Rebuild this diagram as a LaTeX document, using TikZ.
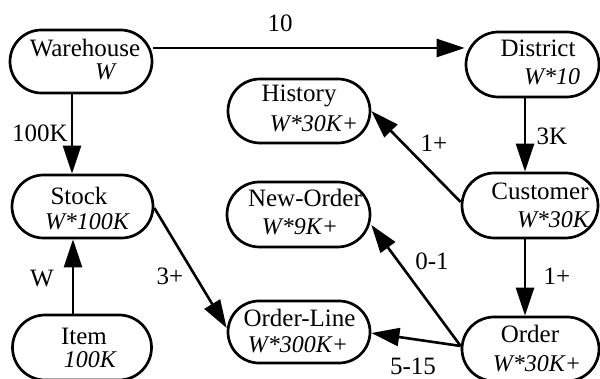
\documentclass[tikz,border=0pt]{standalone}
\usepackage{fontspec}
\setmainfont{Liberation Serif}
\usetikzlibrary{arrows.meta,shapes.misc}
\begin{document}
\begin{tikzpicture}[x=1pt,y=-1pt,
  box/.style={draw,rounded rectangle,line width=2.7pt,inner sep=0pt},
  txt/.style={anchor=base,inner sep=0pt,font=\fontsize{25}{28}\selectfont},
  itx/.style={anchor=base,inner sep=0pt,font=\fontsize{24}{28}\selectfont\itshape},
  lab/.style={anchor=base,inner sep=0pt,font=\fontsize{25}{28}\selectfont},
  conn/.style={line width=2.6pt,-{Triangle[length=28pt,width=18pt]}}]
\path[use as bounding box] (0,0) rectangle (600,379);

% boxes
\node[box,minimum width=142pt,minimum height=63pt] (wh) at (81,61.5) {};
\node[box,minimum width=133pt,minimum height=65pt] (di) at (532.5,64.5) {};
\node[box,minimum width=142pt,minimum height=64pt] (hi) at (299,111) {};
\node[box,minimum width=141pt,minimum height=63pt] (st) at (82.5,206.5) {};
\node[box,minimum width=143pt,minimum height=65pt] (no) at (298.5,214.5) {};
\node[box,minimum width=136pt,minimum height=65pt] (cu) at (530,205.5) {};
\node[box,minimum width=139pt,minimum height=65pt] (it) at (82,347.5) {};
\node[box,minimum width=142pt,minimum height=62pt] (ol) at (299,332) {};
\node[box,minimum width=137pt,minimum height=64pt] (or) at (530.5,349) {};

% box texts
\node[txt] (wh1) at (85,57) {Warehouse};
\node[itx] (wh2) at (105,80) {W};
\node[txt] (di1) at (538,57) {District};
\node[itx] (di2) at (552,85) {W*10};
\node[txt] (hi1) at (299,102) {History};
\node[itx] (hi2) at (314,132) {W*30K+};
\node[txt] (st1) at (79,205) {Stock};
\node[itx] (st2) at (87,230) {W*100K};
\node[txt] (no1) at (305,207) {New-Order};
\node[itx] (no2) at (300,235) {W*9K+};
\node[txt] (cu1) at (540,200) {Customer};
\node[itx] (cu2) at (553,228) {W*30K};
\node[txt] (it1) at (84,345) {Item};
\node[itx] (it2) at (90,367) {100K};
\node[txt] (ol1) at (299.5,327) {Order-Line};
\node[itx] (ol2) at (298,353) {W*300K+};
\node[txt] (or1) at (530,343) {Order};
\node[itx] (or2) at (537,372) {W*30K+};

% connectors
\draw[conn] ([yshift=13.5pt]wh.east) -- ([yshift=16.5pt]di.west);
\draw[conn] ([xshift=-9pt]wh.south) -- ([xshift=-10.5pt]st.north);
\draw[conn] ([xshift=-9pt]it.north) -- ([xshift=-9.5pt]st.south);
\draw[conn] ([yshift=-1.5pt]st.east) -- ([yshift=4pt]ol.west);
\draw[conn] ([xshift=-7.5pt]di.south) -- ([xshift=-5pt]cu.north);
\draw[conn] ([xshift=-5pt]cu.south) -- ([xshift=-5.5pt]or.north);
\draw[conn] ([yshift=3.5pt]cu.west) -- (hi.east);
\draw[conn] ([yshift=3pt]or.west) -- ([yshift=-10.5pt]no.east);
\draw[conn] ([yshift=3pt]or.west) -- ([yshift=-1pt]ol.east);

% connector labels
\node[lab] (l10) at (280,32) {10};
\node[lab] (l100k) at (40,142) {100K};
\node[lab] (l3k) at (552,145) {3K};
\node[lab] (l1a) at (434,152) {1+};
\node[lab] (lw) at (42,287) {W};
\node[lab] (l3p) at (170,285) {3+};
\node[lab] (l01) at (432,270) {0-1};
\node[lab] (l1b) at (557,285) {1+};
\node[lab] (l515) at (413,374) {5-15};
\end{tikzpicture}
\end{document}
